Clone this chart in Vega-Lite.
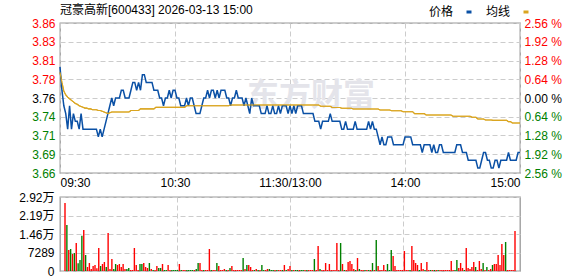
{
  "$schema": "https://vega.github.io/schema/vega-lite/v6.json",
  "padding": {"left": 17, "top": 2, "right": 0, "bottom": 0},
  "background": "white",
  "config": {
    "font": "Liberation Sans, Noto Sans CJK SC",
    "view": {"stroke": "#999999", "strokeWidth": 1.3},
    "axis": {"ticks": false, "domain": false, "gridColor": "#cccccc", "gridDash": [5, 3], "gridWidth": 1, "labelFontSize": 12, "labelFont": "Liberation Sans, Noto Sans CJK SC", "title": null},
    "legend": {"labelFont": "Liberation Sans, Noto Sans CJK SC", "labelFontSize": 12, "labelColor": "#000000"}
  },
  "data": {"values": [
    {"m":0,"p":3.80,"a":3.793,"v":26790,"c":"r"},
    {"m":1,"p":3.77,"a":3.780,"v":18120,"c":"g"},
    {"m":2,"p":3.75,"a":3.769,"v":8270,"c":"r"},
    {"m":3,"p":3.74,"a":3.764,"v":8670,"c":"g"},
    {"m":4,"p":3.72,"a":3.761,"v":6700,"c":"r"},
    {"m":5,"p":3.75,"a":3.759,"v":7090,"c":"g"},
    {"m":6,"p":3.72,"a":3.757,"v":11030,"c":"r"},
    {"m":7,"p":3.74,"a":3.755,"v":3020,"c":"g"},
    {"m":8,"p":3.73,"a":3.753,"v":4330,"c":"g"},
    {"m":9,"p":3.73,"a":3.752,"v":13920,"c":"g"},
    {"m":10,"p":3.72,"a":3.750,"v":16150,"c":"r"},
    {"m":11,"p":3.74,"a":3.749,"v":6300,"c":"g"},
    {"m":12,"p":3.72,"a":3.748,"v":1580,"c":"r"},
    {"m":13,"p":3.72,"a":3.747,"v":3150,"c":"r"},
    {"m":14,"p":3.72,"a":3.747,"v":790,"c":"r"},
    {"m":15,"p":3.72,"a":3.746,"v":1970,"c":"r"},
    {"m":16,"p":3.72,"a":3.746,"v":2360,"c":"r"},
    {"m":17,"p":3.72,"a":3.745,"v":1050,"c":"r"},
    {"m":18,"p":3.72,"a":3.745,"v":9060,"c":"r"},
    {"m":19,"p":3.72,"a":3.745,"v":1970,"c":"g"},
    {"m":20,"p":3.71,"a":3.744,"v":2760,"c":"r"},
    {"m":21,"p":3.72,"a":3.744,"v":3550,"c":"r"},
    {"m":22,"p":3.71,"a":3.743,"v":1580,"c":"g"},
    {"m":23,"p":3.72,"a":3.742,"v":14970,"c":"r"},
    {"m":24,"p":3.73,"a":3.741,"v":790,"c":"r"},
    {"m":25,"p":3.74,"a":3.740,"v":4730,"c":"r"},
    {"m":26,"p":3.75,"a":3.741,"v":790,"c":"g"},
    {"m":27,"p":3.76,"a":3.742,"v":2760,"c":"g"},
    {"m":28,"p":3.75,"a":3.742,"v":2360,"c":"r"},
    {"m":29,"p":3.76,"a":3.742,"v":2760,"c":"r"},
    {"m":30,"p":3.76,"a":3.742,"v":1580,"c":"r"},
    {"m":31,"p":3.76,"a":3.742,"v":2760,"c":"r"},
    {"m":32,"p":3.77,"a":3.742,"v":790,"c":"r"},
    {"m":33,"p":3.77,"a":3.742,"v":790,"c":"g"},
    {"m":34,"p":3.76,"a":3.742,"v":1180,"c":"g"},
    {"m":35,"p":3.76,"a":3.742,"v":390,"c":"r"},
    {"m":36,"p":3.76,"a":3.742,"v":390,"c":"r"},
    {"m":37,"p":3.77,"a":3.744,"v":9060,"c":"r"},
    {"m":38,"p":3.78,"a":3.744,"v":2360,"c":"r"},
    {"m":39,"p":3.78,"a":3.744,"v":390,"c":"r"},
    {"m":40,"p":3.77,"a":3.744,"v":2760,"c":"g"},
    {"m":41,"p":3.78,"a":3.744,"v":2760,"c":"g"},
    {"m":42,"p":3.77,"a":3.746,"v":3150,"c":"r"},
    {"m":43,"p":3.79,"a":3.746,"v":1580,"c":"r"},
    {"m":44,"p":3.79,"a":3.746,"v":1180,"c":"r"},
    {"m":45,"p":3.78,"a":3.746,"v":3150,"c":"g"},
    {"m":46,"p":3.78,"a":3.746,"v":790,"c":"r"},
    {"m":47,"p":3.78,"a":3.746,"v":390,"c":"g"},
    {"m":48,"p":3.78,"a":3.746,"v":390,"c":"r"},
    {"m":49,"p":3.77,"a":3.746,"v":1970,"c":"r"},
    {"m":50,"p":3.77,"a":3.748,"v":1180,"c":"g"},
    {"m":51,"p":3.77,"a":3.748,"v":1180,"c":"g"},
    {"m":52,"p":3.76,"a":3.748,"v":2760,"c":"r"},
    {"m":53,"p":3.76,"a":3.748,"v":390,"c":"g"},
    {"m":54,"p":3.75,"a":3.748,"v":390,"c":"g"},
    {"m":55,"p":3.76,"a":3.748,"v":2360,"c":"r"},
    {"m":56,"p":3.76,"a":3.748,"v":390,"c":"r"},
    {"m":57,"p":3.77,"a":3.748,"v":390,"c":"g"},
    {"m":58,"p":3.76,"a":3.748,"v":390,"c":"g"},
    {"m":59,"p":3.77,"a":3.748,"v":390,"c":"g"},
    {"m":60,"p":3.77,"a":3.748,"v":390,"c":"g"},
    {"m":61,"p":3.76,"a":3.748,"v":2760,"c":"r"},
    {"m":62,"p":3.76,"a":3.748,"v":390,"c":"g"},
    {"m":63,"p":3.75,"a":3.748,"v":390,"c":"r"},
    {"m":64,"p":3.75,"a":3.748,"v":390,"c":"r"},
    {"m":65,"p":3.75,"a":3.748,"v":390,"c":"g"},
    {"m":66,"p":3.76,"a":3.750,"v":390,"c":"g"},
    {"m":67,"p":3.75,"a":3.750,"v":390,"c":"g"},
    {"m":68,"p":3.76,"a":3.750,"v":390,"c":"g"},
    {"m":69,"p":3.76,"a":3.750,"v":390,"c":"r"},
    {"m":70,"p":3.75,"a":3.750,"v":790,"c":"g"},
    {"m":71,"p":3.74,"a":3.750,"v":3150,"c":"g"},
    {"m":72,"p":3.74,"a":3.750,"v":3150,"c":"r"},
    {"m":73,"p":3.74,"a":3.750,"v":390,"c":"r"},
    {"m":74,"p":3.75,"a":3.750,"v":390,"c":"g"},
    {"m":75,"p":3.76,"a":3.750,"v":390,"c":"r"},
    {"m":76,"p":3.76,"a":3.750,"v":390,"c":"r"},
    {"m":77,"p":3.77,"a":3.750,"v":8670,"c":"r"},
    {"m":78,"p":3.76,"a":3.750,"v":390,"c":"g"},
    {"m":79,"p":3.77,"a":3.750,"v":390,"c":"r"},
    {"m":80,"p":3.77,"a":3.750,"v":390,"c":"r"},
    {"m":81,"p":3.76,"a":3.750,"v":3150,"c":"g"},
    {"m":82,"p":3.77,"a":3.750,"v":1970,"c":"r"},
    {"m":83,"p":3.76,"a":3.750,"v":390,"c":"r"},
    {"m":84,"p":3.77,"a":3.750,"v":390,"c":"r"},
    {"m":85,"p":3.77,"a":3.750,"v":790,"c":"r"},
    {"m":86,"p":3.77,"a":3.750,"v":390,"c":"g"},
    {"m":87,"p":3.76,"a":3.750,"v":390,"c":"r"},
    {"m":88,"p":3.76,"a":3.750,"v":1180,"c":"g"},
    {"m":89,"p":3.75,"a":3.751,"v":1970,"c":"r"},
    {"m":90,"p":3.76,"a":3.751,"v":390,"c":"r"},
    {"m":91,"p":3.76,"a":3.751,"v":390,"c":"r"},
    {"m":92,"p":3.77,"a":3.751,"v":390,"c":"r"},
    {"m":93,"p":3.76,"a":3.751,"v":390,"c":"r"},
    {"m":94,"p":3.76,"a":3.751,"v":390,"c":"r"},
    {"m":95,"p":3.76,"a":3.751,"v":5120,"c":"g"},
    {"m":96,"p":3.75,"a":3.751,"v":790,"c":"r"},
    {"m":97,"p":3.76,"a":3.751,"v":2360,"c":"g"},
    {"m":98,"p":3.75,"a":3.751,"v":2360,"c":"r"},
    {"m":99,"p":3.74,"a":3.751,"v":1580,"c":"r"},
    {"m":100,"p":3.76,"a":3.751,"v":390,"c":"r"},
    {"m":101,"p":3.75,"a":3.751,"v":390,"c":"g"},
    {"m":102,"p":3.75,"a":3.751,"v":790,"c":"r"},
    {"m":103,"p":3.75,"a":3.751,"v":390,"c":"g"},
    {"m":104,"p":3.75,"a":3.751,"v":390,"c":"r"},
    {"m":105,"p":3.74,"a":3.751,"v":2360,"c":"g"},
    {"m":106,"p":3.74,"a":3.751,"v":390,"c":"g"},
    {"m":107,"p":3.74,"a":3.751,"v":390,"c":"r"},
    {"m":108,"p":3.75,"a":3.751,"v":790,"c":"r"},
    {"m":109,"p":3.74,"a":3.751,"v":790,"c":"g"},
    {"m":110,"p":3.74,"a":3.751,"v":390,"c":"g"},
    {"m":111,"p":3.75,"a":3.751,"v":390,"c":"g"},
    {"m":112,"p":3.74,"a":3.751,"v":390,"c":"r"},
    {"m":113,"p":3.74,"a":3.751,"v":390,"c":"g"},
    {"m":114,"p":3.75,"a":3.751,"v":390,"c":"r"},
    {"m":115,"p":3.74,"a":3.751,"v":390,"c":"r"},
    {"m":116,"p":3.75,"a":3.751,"v":390,"c":"g"},
    {"m":117,"p":3.75,"a":3.751,"v":2360,"c":"r"},
    {"m":118,"p":3.75,"a":3.751,"v":390,"c":"g"},
    {"m":119,"p":3.74,"a":3.751,"v":790,"c":"r"},
    {"m":120,"p":3.75,"a":3.751,"v":1970,"c":"r"},
    {"m":121,"p":3.74,"a":3.751,"v":390,"c":"g"},
    {"m":122,"p":3.75,"a":3.751,"v":390,"c":"r"},
    {"m":123,"p":3.74,"a":3.751,"v":390,"c":"g"},
    {"m":124,"p":3.75,"a":3.751,"v":390,"c":"g"},
    {"m":125,"p":3.75,"a":3.751,"v":390,"c":"r"},
    {"m":126,"p":3.75,"a":3.751,"v":390,"c":"g"},
    {"m":127,"p":3.74,"a":3.751,"v":390,"c":"g"},
    {"m":128,"p":3.74,"a":3.751,"v":390,"c":"r"},
    {"m":129,"p":3.74,"a":3.751,"v":390,"c":"g"},
    {"m":130,"p":3.74,"a":3.751,"v":390,"c":"r"},
    {"m":131,"p":3.74,"a":3.751,"v":390,"c":"r"},
    {"m":132,"p":3.74,"a":3.751,"v":390,"c":"r"},
    {"m":133,"p":3.73,"a":3.751,"v":4730,"c":"g"},
    {"m":134,"p":3.73,"a":3.751,"v":390,"c":"r"},
    {"m":135,"p":3.73,"a":3.751,"v":9850,"c":"r"},
    {"m":136,"p":3.72,"a":3.7495,"v":790,"c":"g"},
    {"m":137,"p":3.73,"a":3.7495,"v":390,"c":"r"},
    {"m":138,"p":3.73,"a":3.7495,"v":390,"c":"r"},
    {"m":139,"p":3.73,"a":3.7495,"v":3150,"c":"r"},
    {"m":140,"p":3.73,"a":3.7495,"v":390,"c":"r"},
    {"m":141,"p":3.74,"a":3.7495,"v":2760,"c":"r"},
    {"m":142,"p":3.73,"a":3.7478,"v":390,"c":"r"},
    {"m":143,"p":3.73,"a":3.7478,"v":390,"c":"r"},
    {"m":144,"p":3.73,"a":3.7478,"v":390,"c":"r"},
    {"m":145,"p":3.73,"a":3.7478,"v":11030,"c":"r"},
    {"m":146,"p":3.73,"a":3.7478,"v":390,"c":"r"},
    {"m":147,"p":3.72,"a":3.7468,"v":11030,"c":"g"},
    {"m":148,"p":3.72,"a":3.7468,"v":2760,"c":"r"},
    {"m":149,"p":3.73,"a":3.7468,"v":390,"c":"g"},
    {"m":150,"p":3.72,"a":3.7468,"v":390,"c":"r"},
    {"m":151,"p":3.72,"a":3.7468,"v":3550,"c":"r"},
    {"m":152,"p":3.72,"a":3.7468,"v":3940,"c":"r"},
    {"m":153,"p":3.72,"a":3.7459,"v":2760,"c":"r"},
    {"m":154,"p":3.73,"a":3.7459,"v":790,"c":"r"},
    {"m":155,"p":3.72,"a":3.7459,"v":390,"c":"g"},
    {"m":156,"p":3.72,"a":3.7459,"v":5120,"c":"r"},
    {"m":157,"p":3.72,"a":3.7459,"v":790,"c":"g"},
    {"m":158,"p":3.72,"a":3.7459,"v":390,"c":"r"},
    {"m":159,"p":3.72,"a":3.7459,"v":390,"c":"r"},
    {"m":160,"p":3.72,"a":3.7459,"v":390,"c":"g"},
    {"m":161,"p":3.73,"a":3.7459,"v":390,"c":"r"},
    {"m":162,"p":3.72,"a":3.7459,"v":390,"c":"g"},
    {"m":163,"p":3.73,"a":3.7459,"v":390,"c":"r"},
    {"m":164,"p":3.72,"a":3.7459,"v":3150,"c":"g"},
    {"m":165,"p":3.72,"a":3.7459,"v":390,"c":"r"},
    {"m":166,"p":3.71,"a":3.7459,"v":12210,"c":"g"},
    {"m":167,"p":3.70,"a":3.7446,"v":1970,"c":"r"},
    {"m":168,"p":3.71,"a":3.7446,"v":390,"c":"r"},
    {"m":169,"p":3.70,"a":3.7446,"v":390,"c":"r"},
    {"m":170,"p":3.70,"a":3.7446,"v":2360,"c":"r"},
    {"m":171,"p":3.71,"a":3.7446,"v":390,"c":"r"},
    {"m":172,"p":3.71,"a":3.7446,"v":2760,"c":"g"},
    {"m":173,"p":3.71,"a":3.7437,"v":390,"c":"g"},
    {"m":174,"p":3.70,"a":3.7437,"v":8270,"c":"g"},
    {"m":175,"p":3.70,"a":3.7437,"v":5910,"c":"r"},
    {"m":176,"p":3.70,"a":3.7437,"v":1970,"c":"r"},
    {"m":177,"p":3.70,"a":3.7437,"v":390,"c":"r"},
    {"m":178,"p":3.70,"a":3.7437,"v":390,"c":"r"},
    {"m":179,"p":3.70,"a":3.7424,"v":390,"c":"r"},
    {"m":180,"p":3.71,"a":3.7424,"v":390,"c":"r"},
    {"m":181,"p":3.71,"a":3.7424,"v":7880,"c":"r"},
    {"m":182,"p":3.71,"a":3.7424,"v":390,"c":"r"},
    {"m":183,"p":3.71,"a":3.7424,"v":390,"c":"r"},
    {"m":184,"p":3.70,"a":3.7424,"v":390,"c":"g"},
    {"m":185,"p":3.70,"a":3.7399,"v":9850,"c":"r"},
    {"m":186,"p":3.70,"a":3.7399,"v":4330,"c":"r"},
    {"m":187,"p":3.70,"a":3.7399,"v":3150,"c":"r"},
    {"m":188,"p":3.70,"a":3.7399,"v":2360,"c":"r"},
    {"m":189,"p":3.69,"a":3.7399,"v":390,"c":"g"},
    {"m":190,"p":3.70,"a":3.7399,"v":3150,"c":"r"},
    {"m":191,"p":3.70,"a":3.7382,"v":790,"c":"r"},
    {"m":192,"p":3.70,"a":3.7382,"v":390,"c":"g"},
    {"m":193,"p":3.70,"a":3.7382,"v":3550,"c":"r"},
    {"m":194,"p":3.69,"a":3.7382,"v":390,"c":"r"},
    {"m":195,"p":3.70,"a":3.7382,"v":390,"c":"g"},
    {"m":196,"p":3.69,"a":3.7382,"v":390,"c":"r"},
    {"m":197,"p":3.69,"a":3.7382,"v":390,"c":"g"},
    {"m":198,"p":3.70,"a":3.7382,"v":390,"c":"r"},
    {"m":199,"p":3.70,"a":3.7382,"v":390,"c":"g"},
    {"m":200,"p":3.69,"a":3.7382,"v":390,"c":"r"},
    {"m":201,"p":3.69,"a":3.7382,"v":390,"c":"r"},
    {"m":202,"p":3.69,"a":3.7382,"v":390,"c":"r"},
    {"m":203,"p":3.69,"a":3.7382,"v":390,"c":"r"},
    {"m":204,"p":3.69,"a":3.7382,"v":390,"c":"r"},
    {"m":205,"p":3.69,"a":3.7365,"v":390,"c":"r"},
    {"m":206,"p":3.69,"a":3.7365,"v":3940,"c":"r"},
    {"m":207,"p":3.70,"a":3.7365,"v":390,"c":"r"},
    {"m":208,"p":3.70,"a":3.7365,"v":390,"c":"g"},
    {"m":209,"p":3.70,"a":3.7365,"v":4330,"c":"g"},
    {"m":210,"p":3.69,"a":3.7365,"v":1180,"c":"r"},
    {"m":211,"p":3.69,"a":3.7365,"v":3150,"c":"r"},
    {"m":212,"p":3.69,"a":3.7365,"v":1180,"c":"r"},
    {"m":213,"p":3.68,"a":3.7365,"v":390,"c":"g"},
    {"m":214,"p":3.68,"a":3.7365,"v":9060,"c":"r"},
    {"m":215,"p":3.68,"a":3.7352,"v":1180,"c":"r"},
    {"m":216,"p":3.68,"a":3.7352,"v":790,"c":"r"},
    {"m":217,"p":3.68,"a":3.7352,"v":1580,"c":"r"},
    {"m":218,"p":3.67,"a":3.733,"v":3550,"c":"r"},
    {"m":219,"p":3.67,"a":3.733,"v":1580,"c":"g"},
    {"m":220,"p":3.68,"a":3.733,"v":390,"c":"r"},
    {"m":221,"p":3.69,"a":3.733,"v":3940,"c":"r"},
    {"m":222,"p":3.69,"a":3.7317,"v":790,"c":"r"},
    {"m":223,"p":3.68,"a":3.7317,"v":3150,"c":"g"},
    {"m":224,"p":3.68,"a":3.7317,"v":390,"c":"r"},
    {"m":225,"p":3.67,"a":3.7317,"v":1580,"c":"g"},
    {"m":226,"p":3.67,"a":3.7313,"v":390,"c":"r"},
    {"m":227,"p":3.68,"a":3.7313,"v":790,"c":"r"},
    {"m":228,"p":3.68,"a":3.7313,"v":2360,"c":"g"},
    {"m":229,"p":3.67,"a":3.7313,"v":2760,"c":"r"},
    {"m":230,"p":3.68,"a":3.7313,"v":2760,"c":"r"},
    {"m":231,"p":3.68,"a":3.7313,"v":6300,"c":"r"},
    {"m":232,"p":3.68,"a":3.7313,"v":2360,"c":"r"},
    {"m":233,"p":3.68,"a":3.7313,"v":10640,"c":"r"},
    {"m":234,"p":3.69,"a":3.7296,"v":6300,"c":"r"},
    {"m":235,"p":3.68,"a":3.7296,"v":11420,"c":"g"},
    {"m":236,"p":3.68,"a":3.7279,"v":390,"c":"r"},
    {"m":237,"p":3.68,"a":3.7279,"v":390,"c":"r"},
    {"m":238,"p":3.68,"a":3.7279,"v":390,"c":"r"},
    {"m":239,"p":3.69,"a":3.7279,"v":390,"c":"r"},
    {"m":240,"p":3.69,"a":3.7279,"v":15760,"c":"r"}
  ]},
  "bounds": "flush",
  "spacing": 24,
  "resolve": {"scale": {"color": "independent"}, "legend": {"color": "independent"}},
  "vconcat": [
    {
      "width": 460,
      "height": 150,
      "title": {"text": "冠豪高新[600433] 2026-03-13 15:00", "anchor": "start", "frame": "group", "fontSize": 12, "fontWeight": "normal", "color": "#000000", "font": "Liberation Sans, Noto Sans CJK SC", "offset": -10.5},
      "resolve": {"axis": {"y": "independent"}},
      "layer": [
        {
          "data": {"values": [{}]},
          "mark": {"type": "text", "text": "东方财富", "fontSize": 32, "fontWeight": "bold", "color": "#e4e4ea", "font": "Noto Sans CJK SC"},
          "encoding": {
            "x": {"datum": 131, "type": "quantitative", "scale": {"domain": [0, 240], "nice": false, "zero": false},
                  "axis": {"values": [0, 60, 120, 180, 240], "grid": true, "labelFlush": true, "labelPadding": 4, "labelColor": "#000000",
                           "labelExpr": "datum.value == 0 ? '09:30' : datum.value == 60 ? '10:30' : datum.value == 120 ? '11:30/13:00' : datum.value == 180 ? '14:00' : '15:00'"}},
            "y": {"datum": 3.763, "type": "quantitative", "scale": {"domain": [3.66368, 3.85632], "nice": false, "zero": false}, "axis": null}
          }
        },
        {
          "transform": [{"fold": ["a", "p"], "as": ["s", "val"]}],
          "mark": {"type": "line", "interpolate": "linear"},
          "encoding": {
            "x": {"field": "m", "type": "quantitative", "scale": {"domain": [0, 240], "nice": false, "zero": false},
                  "axis": {"values": [0, 60, 120, 180, 240], "grid": true, "labelFlush": true, "labelPadding": 4, "labelColor": "#000000",
                           "labelExpr": "datum.value == 0 ? '09:30' : datum.value == 60 ? '10:30' : datum.value == 120 ? '11:30/13:00' : datum.value == 180 ? '14:00' : '15:00'"}},
            "y": {"field": "val", "type": "quantitative", "scale": {"domain": [3.66368, 3.85632], "nice": false, "zero": false},
                  "axis": {"orient": "left", "values": [3.66368, 3.68776, 3.71184, 3.73592, 3.76, 3.78408, 3.80816, 3.83224, 3.85632], "grid": true, "labelPadding": 5,
                           "labelExpr": "format(datum.value, '.2f')",
                           "labelColor": {"condition": [{"test": "datum.value > 3.761", "value": "#ff0000"}, {"test": "datum.value < 3.759", "value": "#008000"}], "value": "#000000"}}},
            "color": {"field": "s", "type": "nominal", "scale": {"domain": ["p", "a"], "range": ["#0a50a5", "#daa520"]},
                      "legend": {"orient": "none", "legendX": 403, "legendY": -17, "direction": "horizontal", "title": null,
                                 "labelExpr": "datum.label == 'p' ? '价格' : '均线'", "labelAlign": "right", "labelOffset": -22,
                                 "symbolType": "stroke", "symbolSize": 25, "symbolStrokeWidth": 3, "columnPadding": 7}},
            "strokeWidth": {"field": "s", "type": "nominal", "scale": {"domain": ["p", "a"], "range": [1.5, 1.1]}, "legend": null}
          }
        },
        {
          "mark": {"type": "line", "color": "#daa520", "strokeWidth": 1.1},
          "encoding": {
            "x": {"field": "m", "type": "quantitative", "scale": {"domain": [0, 240], "nice": false, "zero": false},
                  "axis": {"values": [0, 60, 120, 180, 240], "grid": true, "labelFlush": true, "labelPadding": 4, "labelColor": "#000000",
                           "labelExpr": "datum.value == 0 ? '09:30' : datum.value == 60 ? '10:30' : datum.value == 120 ? '11:30/13:00' : datum.value == 180 ? '14:00' : '15:00'"}},
            "y": {"field": "a", "type": "quantitative", "scale": {"domain": [3.66368, 3.85632], "nice": false, "zero": false},
                  "axis": {"orient": "right", "values": [3.66368, 3.68776, 3.71184, 3.73592, 3.76, 3.78408, 3.80816, 3.83224, 3.85632], "grid": false, "labelPadding": 4,
                           "labelExpr": "format(abs(datum.value - 3.76) / 3.76 * 100, '.2f') + ' %'",
                           "labelColor": {"condition": [{"test": "datum.value > 3.761", "value": "#ff0000"}, {"test": "datum.value < 3.759", "value": "#008000"}], "value": "#000000"}}}
          }
        }
      ]
    },
    {
      "width": 460,
      "height": 74,
      "mark": {"type": "bar", "size": 1.4},
      "encoding": {
        "x": {"field": "m", "type": "quantitative", "scale": {"domain": [0, 240], "nice": false, "zero": false},
              "axis": {"values": [60, 120, 180], "labels": false, "grid": true}},
        "y": {"field": "v", "type": "quantitative", "scale": {"domain": [0, 29156], "nice": false},
              "axis": {"values": [0, 7289, 14578, 21867, 29156], "grid": true, "labelPadding": 6, "labelColor": "#000000",
                       "labelExpr": "datum.value >= 10000 ? format(datum.value / 10000, '.2f') + '万' : format(datum.value, 'd')"}},
        "color": {"field": "c", "type": "nominal", "scale": {"domain": ["r", "g"], "range": ["#ff0000", "#008000"]}, "legend": null}
      }
    }
  ]
}
